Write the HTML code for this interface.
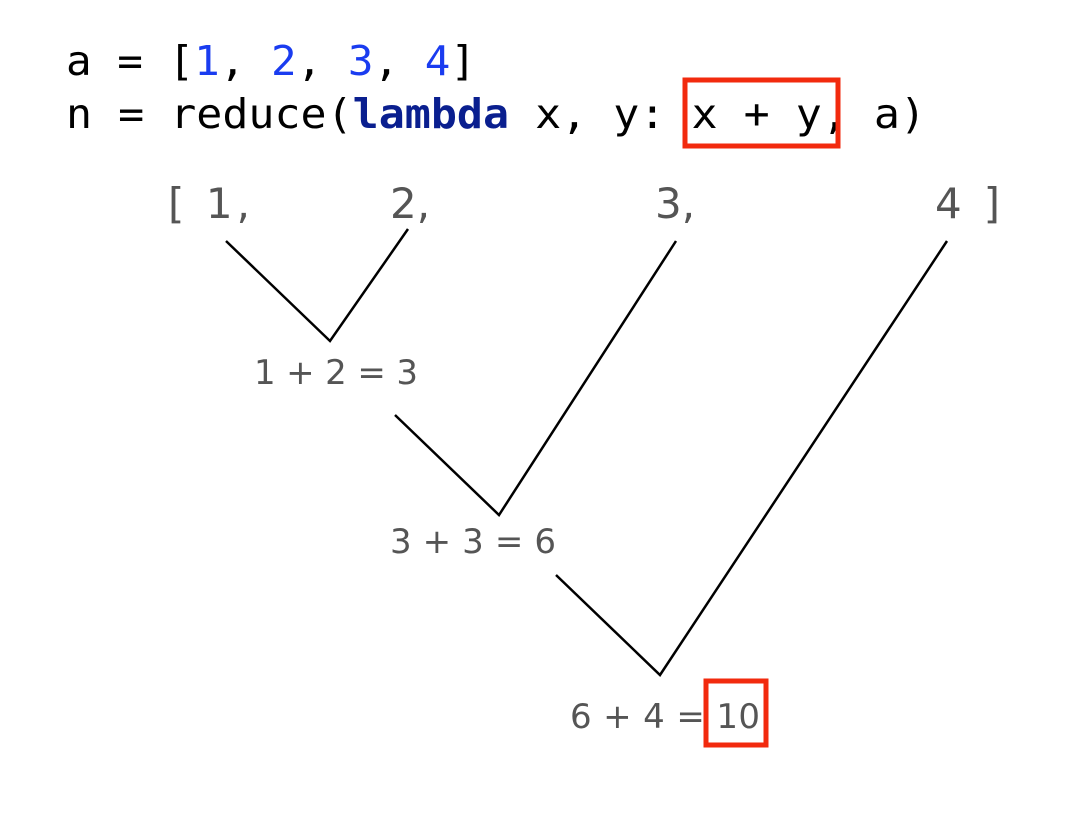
<!DOCTYPE html>
<html><head><meta charset="utf-8"><style>
html,body{margin:0;padding:0;background:#fff;width:1080px;height:828px;overflow:hidden}
</style></head><body>
<svg width="1080" height="828" viewBox="0 0 1080 828" xmlns="http://www.w3.org/2000/svg">
<g font-family="DejaVu Sans Mono, Liberation Mono, monospace" font-size="41" fill="#000">
<text x="66" y="75" textLength="410" lengthAdjust="spacingAndGlyphs">a = [<tspan fill="#1a3cf0">1</tspan>, <tspan fill="#1a3cf0">2</tspan>, <tspan fill="#1a3cf0">3</tspan>, <tspan fill="#1a3cf0">4</tspan>]</text>
<text x="66" y="128" textLength="860" lengthAdjust="spacingAndGlyphs">n = reduce(<tspan fill="#0a1f8f" font-weight="bold">lambda</tspan> x, y: x + y, a)</text>
</g>
<rect x="685" y="80" width="153" height="66" fill="none" stroke="#f22a0e" stroke-width="5"/>
<g font-family="DejaVu Sans, Liberation Sans, sans-serif" fill="#555" font-size="42">
<text x="168" y="218" textLength="82" lengthAdjust="spacing">[ 1,</text>
<text x="390" y="218">2,</text>
<text x="655" y="218">3,</text>
<text x="935" y="218" textLength="65" lengthAdjust="spacing">4 ]</text>
</g>
<g font-family="DejaVu Sans, Liberation Sans, sans-serif" fill="#555" font-size="34">
<text x="254" y="384" textLength="164" lengthAdjust="spacing">1 + 2 = 3</text>
<text x="390" y="553" textLength="166" lengthAdjust="spacing">3 + 3 = 6</text>
<text x="570" y="728" textLength="190" lengthAdjust="spacing">6 + 4 = 10</text>
</g>
<g fill="none" stroke="#000" stroke-width="2.5">
<polyline points="226,241 330,341 408,229"/>
<polyline points="395,415 499,515 676,241"/>
<polyline points="556,575 660,675 947,241"/>
</g>
<rect x="706" y="681" width="60" height="64" fill="none" stroke="#f22a0e" stroke-width="5"/>
</svg>
</body></html>
